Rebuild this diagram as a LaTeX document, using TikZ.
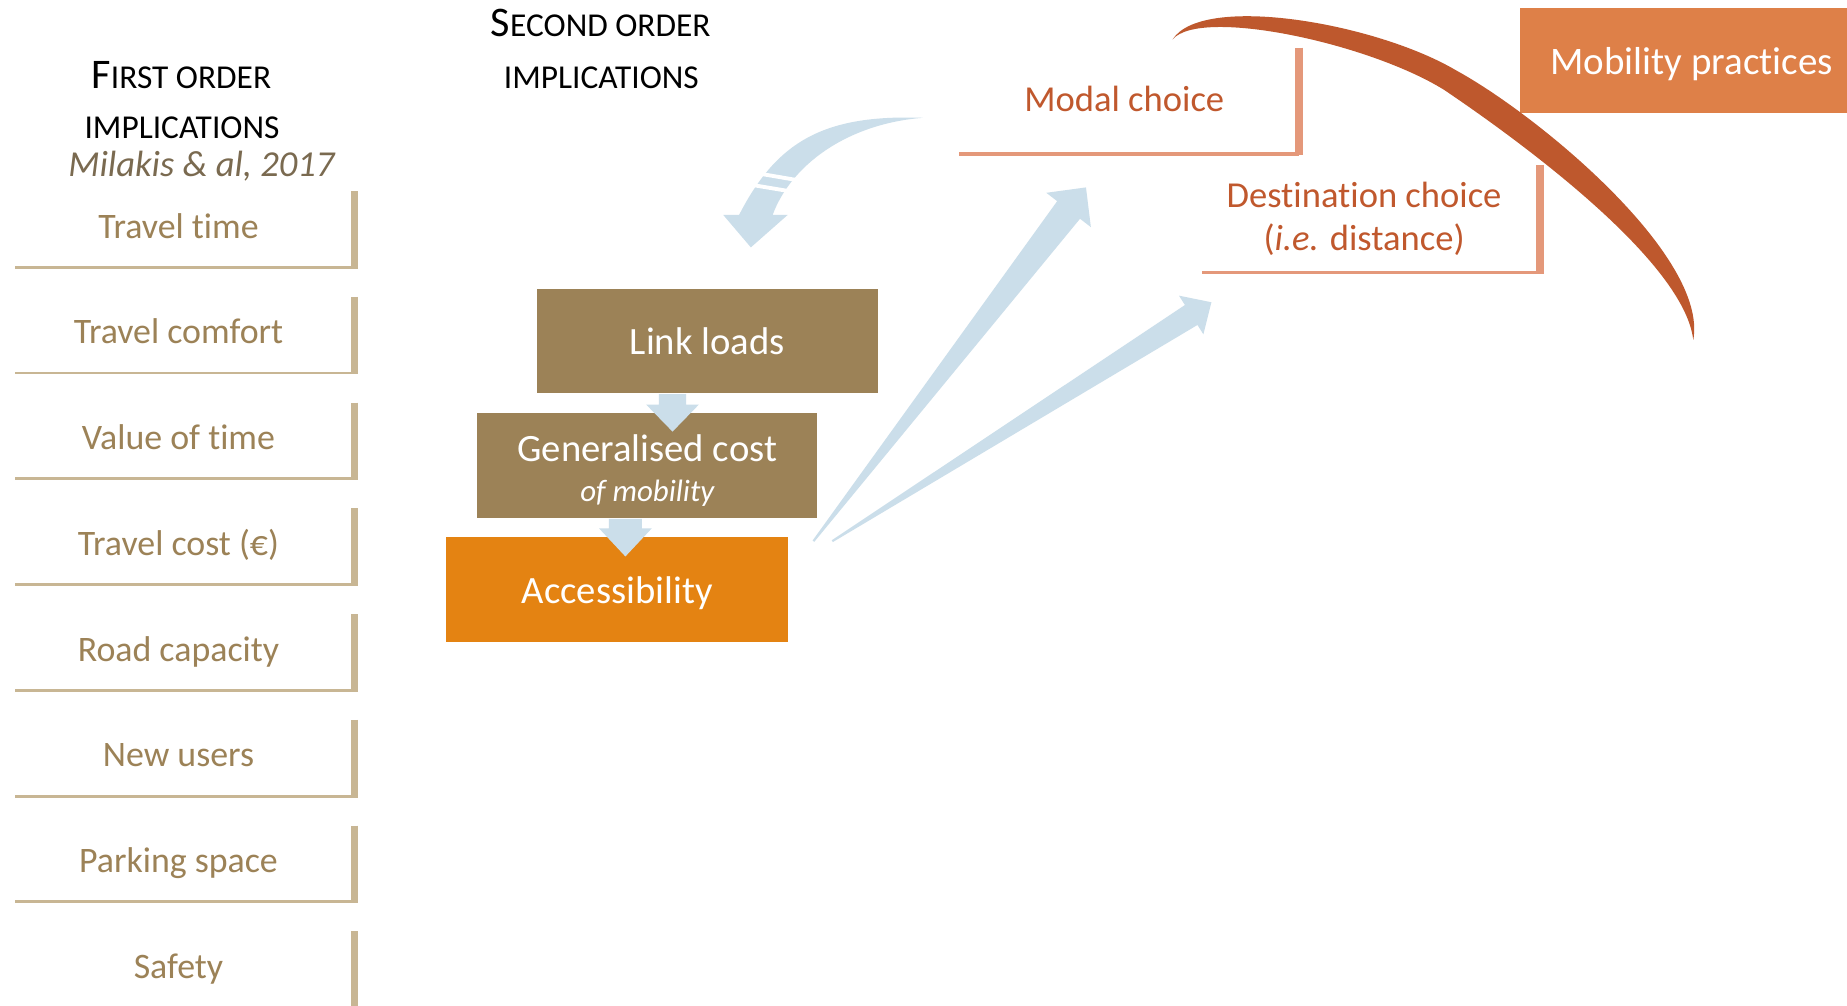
\documentclass[tikz,border=0pt]{standalone}
\usepackage{fontspec}
\setmainfont{Carlito}[Ligatures=NoCommon]
\usetikzlibrary{calc}

\definecolor{tantext}{RGB}{156,130,87}
\definecolor{tanline}{RGB}{200,182,148}
\definecolor{refgrey}{RGB}{122,106,80}
\definecolor{brownbox}{RGB}{156,130,87}
\definecolor{accorange}{RGB}{228,131,18}
\definecolor{mobiorange}{RGB}{222,128,72}
\definecolor{choicetext}{RGB}{192,88,45}
\definecolor{choiceline}{RGB}{228,152,122}
\definecolor{arcred}{RGB}{190,88,45}
\definecolor{arrowblue}{RGB}{203,222,234}

% one pixel of the canvas, in pt
\newcommand{\upx}{0.3351pt}
% faked small capitals
\newcommand{\smcap}[2]{{\fontsize{12}{14}\selectfont #1}{\fontsize{9.5}{14}\selectfont #2}}
% tapered block arrow: tail, tip, tail half width, shaft half width, head half width, head length
\newcommand{\taperarrow}[6]{%
  \path ($(#2)!#6!(#1)$) coordinate (hb);
  \fill[arrowblue] ($(#1)!#3!90:(#2)$) -- ($(hb)!#4!90:(#2)$) -- ($(hb)!#5!90:(#2)$) -- (#2)
    -- ($(hb)!#5!-90:(#2)$) -- ($(hb)!#4!-90:(#2)$) -- ($(#1)!#3!-90:(#2)$) -- cycle;
}

\tikzset{
  heading/.style={anchor=base, inner sep=0, font=\fontsize{9.5}{12}\selectfont},
  item/.style={inner sep=0, minimum width=287*\upx, minimum height=63.5*\upx,
    text=tantext, text height=7.3pt, text depth=2.2pt, font=\fontsize{10.2}{12}\selectfont},
  itembar/.style={tanline, line width=2pt},
  itemrule/.style={tanline, line width=0.8pt},
  fillbox/.style={inner sep=0, minimum width=289*\upx, minimum height=89*\upx,
    text=white, font=\fontsize{11}{11.4}\selectfont},
  onerow/.style={text height=7.8pt, text depth=0pt},
  choicebox/.style={inner sep=0, minimum width=287*\upx, minimum height=89*\upx,
    text=choicetext, font=\fontsize{10.4}{12.2}\selectfont},
  choicebar/.style={choiceline, line width=2.2pt},
  choicerule/.style={choiceline, line width=0.95pt}
}

\begin{document}
\begin{tikzpicture}[x=0.011779cm, y=-0.011779cm]
    \fill[white] (0,0) rectangle (1568,854);
    \useasboundingbox (0,0) rectangle (1568,854);

    % headings
    \node[heading] (first1) at (154,75) {\smcap{F}{IRST ORDER}};
    \node[heading] (first2) at (154.5,117.4) {IMPLICATIONS};
    \node[anchor=base, inner sep=0, text=refgrey, font=\fontsize{10.4}{12}\selectfont\itshape]
        (ref) at (171,150) {Milakis \& al, 2017};
    \node[heading] (second1) at (510,31) {\smcap{S}{ECOND ORDER}};
    \node[heading] (second2) at (510.5,75) {IMPLICATIONS};

    % first order implications
    \foreach \txt [count=\i] in {Travel time,Travel comfort,Value of time,Travel cost (€),
        Road capacity,New users,Parking space,Safety}{
        \node[item] (item\i) at (156.5,{194.5+89.8*(\i-1)}) {\txt\hspace*{3.35pt}};
        \ifnum\i<8
            \draw[itembar] (item\i.north east) -- ($(item\i.south east)+(0,1.2)$);
            \draw[itemrule] (item\i.south east) -- (item\i.south west);
        \else
            \draw[itembar] (item\i.north east) -- (item\i.east |- 0,854);
        \fi
    }

    % second order implications
    \node[fillbox, onerow, fill=brownbox] (link) at (600.5,289.5) {Link loads};
    \node[fillbox, fill=brownbox, align=center] (gen) at (549.5,395.5)
        {\rule{0pt}{10.4pt}Generalised cost\\[0pt]{\fontsize{8.8}{10}\selectfont\itshape of mobility}};
    \node[fillbox, onerow, fill=accorange, minimum width=290*\upx] (acc) at (524,500.5) {Accessibility};

    \node[choicebox, text height=7.2pt, text depth=0.9pt] (modal) at (958.5,85.5) {Modal choice\hspace*{2.7pt}};
    \draw[choicebar] (modal.north east) -- ($(modal.south east)+(0,1.4)$);
    \draw[choicerule] (modal.south east) -- (modal.south west);

    \node[choicebox, align=center, minimum width=286*\upx, minimum height=90*\upx] (dest) at (1164,186)
        {Destination choice\hspace*{4pt}\\(\textit{i.e.} distance)\hspace*{4pt}};
    \draw[choicebar] (dest.north east) -- ($(dest.south east)+(0,1.4)$);
    \draw[choicerule] (dest.south east) -- (dest.south west);

    \node[fillbox, fill=mobiorange, minimum width=278*\upx, text height=7.8pt, text depth=0.2pt,
        font=\fontsize{11.1}{12}\selectfont] (mobi) at (1429,51.5) {\hspace*{4.7pt}Mobility practices};

    % blue arrows
    \taperarrow{$(link.south west)+(115.5,0)$}{$(gen.north west)+(166.5,16)$}{3.85pt}{3.85pt}{7.5pt}{7.7pt}
    \taperarrow{$(gen.south west)+(126.5,0)$}{$(acc.north west)+(152.5,17)$}{4.7pt}{4.7pt}{7.5pt}{8pt}
    \taperarrow{$(acc.north east)+(21,4)$}{$(modal.south west)+(107.5,28.5)$}{0.3pt}{4.1pt}{8pt}{8.1pt}
    \taperarrow{$(acc.north east)+(37,4)$}{$(dest.south west)+(8,25)$}{0.3pt}{3.35pt}{6.5pt}{6.8pt}

    % curved arrow back to the link loads
    \coordinate (back) at ($(modal.west)+(-31,14.5)$);
    \begin{scope}[shift={(back)}]
        \fill[arrowblue] (0,0) .. controls (-84,-3) and (-124,20) .. (-156,82.5)
            -- (-169.4,82.5) -- (-146,110) -- (-114.8,82.5) -- (-127.5,82.5)
            .. controls (-112,40) and (-64,5) .. (0,0) -- cycle;
        \draw[white, line width=1.1pt] (-141,47) -- (-106,53);
        \draw[white, line width=1.1pt] (-148,56.5) -- (-112,62.5);
    \end{scope}

    % mobility practices arc
    \fill[arcred] (995.5,33.4) .. controls (1021,-6) and (1168.2,19.6) .. (1236.1,59.7)
        .. controls (1307,98.5) and (1450.3,217.9) .. (1437.5,288.6)
        .. controls (1429.7,222.1) and (1293,121.5) .. (1226,76.3)
        .. controls (1161.8,36.4) and (1019,6) .. (995.5,33.4) -- cycle;
\end{tikzpicture}
\end{document}
